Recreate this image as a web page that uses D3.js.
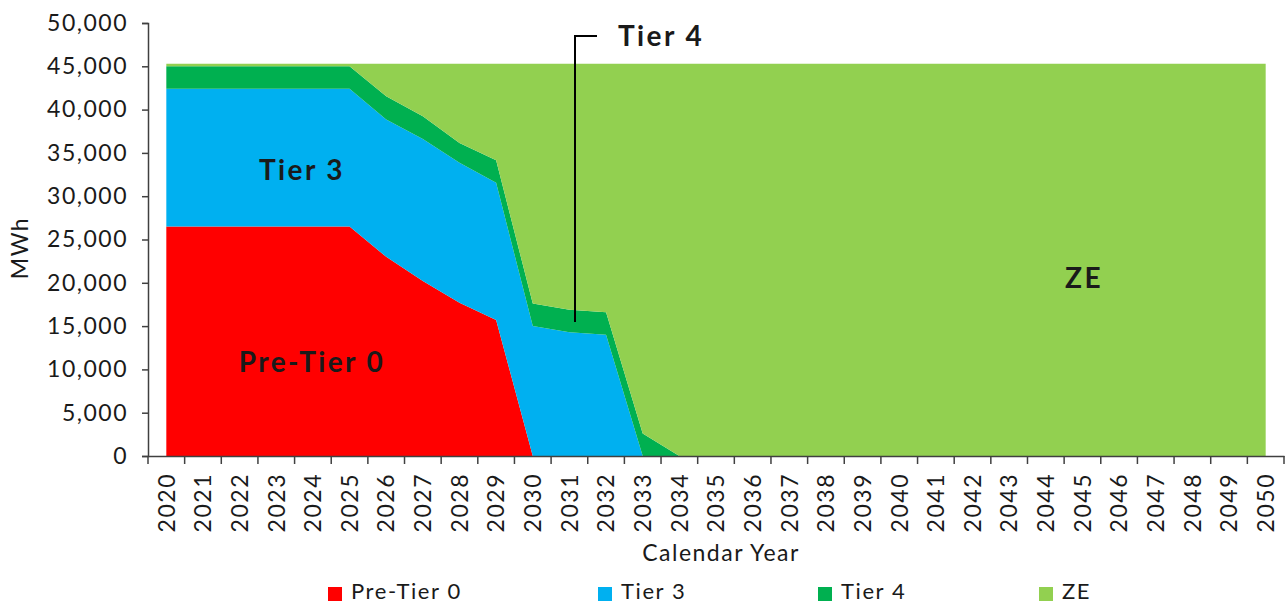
<!DOCTYPE html>
<html>
<head>
<meta charset="utf-8">
<script src="https://cdn.jsdelivr.net/npm/d3@7"></script>
<style>
  body { margin: 0; background: #fff; }
  svg text { font-family: Lato, "Open Sans", sans-serif; fill: #1a1a1a; }
</style>
</head>
<body>
<div id="chart"></div>
<script>
// years on the x axis
const years = d3.range(2020, 2051)

// series values, MWh
const preTier0 = [26500, 26500, 26500, 26500, 26500, 26500, 23000, 20200, 17700, 15700,
    0, 0, 0, 0, 0, 0, 0, 0, 0, 0, 0, 0, 0, 0, 0, 0, 0, 0, 0, 0, 0]
const tier3 = [15900, 15900, 15900, 15900, 15900, 15900, 15850, 16400, 16150, 15840,
    15000, 14300, 14000, 0, 0, 0, 0, 0, 0, 0, 0, 0, 0, 0, 0, 0, 0, 0, 0, 0, 0]
const tier4 = [2600, 2600, 2600, 2600, 2600, 2600, 2700, 2630, 2300, 2610,
    2600, 2600, 2600, 2600, 0, 0, 0, 0, 0, 0, 0, 0, 0, 0, 0, 0, 0, 0, 0, 0, 0]
const ze = [300, 300, 300, 300, 300, 300, 3750, 6070, 9150, 11150,
    27700, 28400, 28700, 42700, 45300, 45300, 45300, 45300, 45300, 45300, 45300,
    45300, 45300, 45300, 45300, 45300, 45300, 45300, 45300, 45300, 45300]

const seriesNames = ["Pre-Tier 0", "Tier 3", "Tier 4", "ZE"]
const seriesColors = ["#ff0000", "#00b0f0", "#00b050", "#92d050"]
const yTicks = d3.range(0, 50001, 5000)

const table = years.map((yr, i) => ({
    year: yr,
    "Pre-Tier 0": preTier0[i],
    "Tier 3": tier3[i],
    "Tier 4": tier4[i],
    "ZE": ze[i]
}))

const W = 1288, H = 606
const svg = d3.select("#chart").append("svg")
    .attr("width", W)
    .attr("height", H)

// scales
const x = d3.scaleBand()
    .domain(years)
    .range([148, 1284])
    .padding(0)
const xc = d => x(d) + x.bandwidth() / 2

const y = d3.scaleLinear()
    .domain([0, 50000])
    .range([456, 23])

// stacked areas
const stacked = d3.stack().keys(seriesNames)(table)
const area = d3.area()
    .x(d => xc(d.data.year))
    .y0(d => y(d[0]))
    .y1(d => y(d[1]))

svg.append("g")
    .selectAll("path")
    .data(stacked)
    .join("path")
    .attr("fill", (d, i) => seriesColors[i])
    .attr("d", area)

// y axis
const yAxis = svg.append("g")
    .attr("transform", "translate(148,0)")
    .call(d3.axisLeft(y).tickValues(yTicks).tickFormat(d3.format(",")).tickSize(6).tickPadding(14))
yAxis.selectAll("path, line").attr("stroke", "#404040").attr("stroke-width", 1.5)
yAxis.selectAll("text")
    .attr("font-size", 23)
    .style("font-family", "Lato, sans-serif")
    .style("letter-spacing", "1.5px")
    .attr("fill", "#1a1a1a")

// x axis - labels centred on bands, ticks on band edges
const xAxis = svg.append("g")
    .attr("transform", "translate(0,456)")
    .call(d3.axisBottom(x).tickSize(0))
xAxis.select("path").attr("stroke", "#404040").attr("stroke-width", 1.5)
xAxis.selectAll("text")
    .attr("font-size", 23)
    .style("font-family", "Lato, sans-serif")
    .style("letter-spacing", "1.5px")
    .attr("fill", "#1a1a1a")
    .attr("transform", "rotate(-90)")
    .attr("text-anchor", "end")
    .attr("x", -17)
    .attr("y", 0)
    .attr("dy", "0.36em")

svg.append("g")
    .selectAll("line")
    .data(years.map(yr => x(yr)).concat([x.range()[1]]))
    .join("line")
    .attr("x1", d => d).attr("x2", d => d)
    .attr("y1", 456).attr("y2", 464)
    .attr("stroke", "#404040")
    .attr("stroke-width", 1.5)

// axis titles
svg.append("text")
    .attr("x", 721).attr("y", 561)
    .attr("text-anchor", "middle")
    .attr("font-size", 23)
    .style("letter-spacing", "1.5px")
    .text("Calendar Year")

svg.append("text")
    .attr("transform", "translate(28,248) rotate(-90)")
    .attr("text-anchor", "middle")
    .attr("font-size", 23)
    .style("letter-spacing", "1.5px")
    .text("MWh")

// labels inside the areas
const inLabels = [
    {t: "Tier 3", x: 302, y: 180},
    {t: "Pre-Tier 0", x: 312, y: 372},
    {t: "ZE", x: 1084, y: 288}
]
svg.append("g")
    .selectAll("text")
    .data(inLabels)
    .join("text")
    .attr("x", d => d.x).attr("y", d => d.y)
    .attr("text-anchor", "middle")
    .attr("font-size", 28)
    .attr("font-weight", "bold")
    .style("letter-spacing", "2.4px")
    .attr("fill", "#000")
    .text(d => d.t)

// Tier 4 callout
svg.append("path")
    .attr("d", "M597,36 H575 V322")
    .attr("fill", "none")
    .attr("stroke", "#000")
    .attr("stroke-width", 2)
svg.append("text")
    .attr("x", 618).attr("y", 46)
    .attr("font-size", 28)
    .attr("font-weight", "bold")
    .style("letter-spacing", "2.4px")
    .attr("fill", "#000")
    .text("Tier 4")

// legend
const legendX = [328, 598, 818, 1039]
const lg = svg.append("g")
    .selectAll("g")
    .data(seriesNames)
    .join("g")
    .attr("transform", (d, i) => `translate(${legendX[i]},581)`)
lg.append("rect")
    .attr("width", 14).attr("height", 14)
    .attr("y", 6)
    .attr("fill", (d, i) => seriesColors[i])
lg.append("text")
    .attr("x", 23).attr("y", 18)
    .attr("font-size", 22)
    .style("letter-spacing", "1.6px")
    .text(d => d)
</script>
</body>
</html>
